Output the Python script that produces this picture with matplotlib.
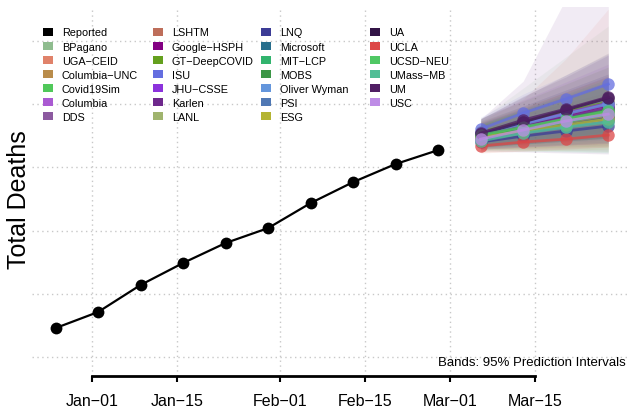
import matplotlib
matplotlib.use("Agg")
import matplotlib.pyplot as plt
from matplotlib.patches import Patch
import matplotlib.dates as mdates
import numpy as np
import pandas as pd

# --- Plot Config ---
plt.rcParams.update({
    "font.family": ["Liberation Sans", "DejaVu Sans"],
    "font.size": 8,
    "axes.linewidth": 1.5,
})

# --- Data ---
report_dates = ['2020-12-26', '2021-01-02', '2021-01-09', '2021-01-16', '2021-01-23',
                '2021-01-30', '2021-02-06', '2021-02-13', '2021-02-20', '2021-02-27']
reported = [12290, 13560, 15700, 17440, 19020, 20200, 22180, 23840, 25270, 26370]

forecast_dates = ['2021-03-06', '2021-03-13', '2021-03-20', '2021-03-27']

models = ['BPagano', 'UGA\u2212CEID', 'Columbia\u2212UNC', 'Covid19Sim', 'Columbia', 'DDS',
          'LSHTM', 'Google\u2212HSPH', 'GT\u2212DeepCOVID', 'ISU', 'JHU\u2212CSSE', 'Karlen',
          'LANL', 'LNQ', 'Microsoft', 'MIT\u2212LCP', 'MOBS', 'Oliver Wyman', 'PSI', 'ESG',
          'UA', 'UCLA', 'UCSD\u2212NEU', 'UMass\u2212MB', 'UM', 'USC']

colors = ['#8fbc8f', '#e0826a', '#b98c4b', '#50c85a', '#aa5ad2', '#8c5aa0',
          '#be6e5a', '#820082', '#64a01e', '#646ee0', '#8c32dc', '#6e288c',
          '#a0b46e', '#3c3c96', '#286e8c', '#32b46e', '#3c9646', '#6496dc', '#5078b4', '#b4b432',
          '#321446', '#dc4646', '#50c864', '#50be96', '#501e64', '#be8ce6']

point = [
    [27480, 27960, 28510, 29060],  # BPagano
    [27320, 27800, 28270, 28750],  # UGA-CEID
    [27560, 28110, 28750, 29380],  # Columbia-UNC
    [27640, 28270, 28980, 29700],  # Covid19Sim
    [27720, 28350, 29060, 29780],  # Columbia
    [27560, 28190, 28910, 29620],  # DDS
    [27400, 27880, 28430, 28980],  # LSHTM
    [27640, 28350, 29140, 29930],  # Google-HSPH
    [27800, 28590, 29380, 30170],  # GT-DeepCOVID
    [28040, 29300, 30410, 31590],  # ISU
    [27720, 28510, 29300, 30090],  # JHU-CSSE
    [27560, 28270, 28980, 29700],  # Karlen
    [27480, 28040, 28670, 29300],  # LANL
    [27010, 27480, 27880, 28270],  # LNQ
    [27320, 27800, 28350, 28910],  # Microsoft
    [27400, 27960, 28590, 29220],  # MIT-LCP
    [27480, 28110, 28830, 29540],  # MOBS
    [27720, 28430, 29220, 30010],  # Oliver Wyman
    [27240, 27720, 28190, 28670],  # PSI
    [27400, 27880, 28350, 28830],  # ESG
    [27640, 28590, 29540, 30490],  # UA
    [26690, 27010, 27240, 27560],  # UCLA
    [27560, 28190, 28830, 29460],  # UCSD-NEU
    [27090, 27720, 28190, 28590],  # UMass-MB
    [27720, 28750, 29620, 30570],  # UM
    [27240, 27960, 28670, 29220],  # USC
]

lower = [
    [26450, 26530, 26610, 26690], [26370, 26450, 26530, 26610], [26610, 26690, 26770, 26850],
    [26450, 26370, 26290, 26220], [26530, 26610, 26690, 26770], [26690, 26850, 27010, 27170],
    [26530, 26450, 26370, 26290], [26770, 27010, 27240, 27480], [26690, 26930, 27170, 27400],
    [27090, 27800, 28510, 29220], [26850, 27170, 27480, 27800], [26290, 26220, 26140, 26060],
    [26450, 26530, 26610, 26690], [26610, 26850, 27090, 27320], [26530, 26690, 26850, 27010],
    [26370, 26290, 26220, 26140], [26610, 26850, 27090, 27320], [26930, 27320, 27720, 28110],
    [26690, 26930, 27170, 27400], [26220, 26290, 26370, 26450], [26450, 26610, 26770, 26930],
    [26140, 26290, 26450, 26610], [26690, 26930, 27170, 27400], [26530, 26770, 27010, 27240],
    [26610, 26850, 27090, 27320], [26450, 26610, 26770, 26930],
]

upper = [
    [28830, 31280, 33730, 36180], [28670, 30410, 33570, 37530], [28350, 29220, 30090, 30960],
    [28670, 29860, 31120, 32390], [28900, 30330, 31750, 33170], [28430, 29540, 30640, 31750],
    [28270, 29380, 30490, 31590], [28510, 29700, 30960, 32230], [28900, 30250, 31590, 32940],
    [28980, 30800, 32310, 33960], [28590, 29860, 31120, 32390], [28830, 31830, 38320, 44650],
    [28510, 29540, 30570, 31590], [27400, 28110, 28670, 29220], [28110, 28910, 29700, 30490],
    [28430, 29620, 30800, 32000], [28350, 29460, 30570, 31670], [28510, 29620, 30730, 31830],
    [27800, 28510, 29220, 29930], [28590, 29780, 30960, 32150], [28830, 30570, 32310, 34050],
    [27320, 27960, 28590, 29220], [28430, 29460, 30490, 31510], [27720, 28670, 29380, 30010],
    [28830, 30640, 32150, 33880], [28110, 29380, 30570, 31590],
]

date_ticks = ['2021-01-01', '2021-01-15', '2021-02-01', '2021-02-15', '2021-03-01', '2021-03-15']
date_labels = ['Jan\u221201', 'Jan\u221215', 'Feb\u221201', 'Feb\u221215', 'Mar\u221201', 'Mar\u221215']
y_breaks = [10000, 15000, 20000, 25000, 30000, 35000]

# --- Figure ---
W, H = 628, 410
fig = plt.figure(figsize=(W / 100, H / 100), dpi=100)
ax = fig.add_axes([32 / W, (H - 377) / H, (W - 32) / W, (377 - 8) / H])

rd = pd.to_datetime(report_dates)
fd = pd.to_datetime(forecast_dates)

# bands
for lo, hi, c in zip(lower, upper, colors):
    ax.fill_between(fd, lo, hi, color=c, alpha=0.09, linewidth=0)

# forecast lines
for pts, c in zip(point, colors):
    ax.plot(fd, pts, color=c, linewidth=2, alpha=0.75,
            marker='o', markersize=9, markeredgewidth=0)

# reported
ax.plot(rd, reported, color='black', linewidth=1.6, marker='o', markersize=8.5,
        markeredgewidth=0)

# --- Axes ---
ax.set_xlim(pd.Timestamp('2020-12-22 03:00'), pd.Timestamp('2021-03-30 06:00'))
ax.set_ylim(8500, 37690)

tick_pos = pd.to_datetime(date_ticks)
ax.set_xticks(tick_pos)
ax.set_xticklabels(date_labels, fontsize=11.5)
ax.set_yticks(y_breaks)
ax.set_yticklabels([])
ax.tick_params(axis='y', length=0)
ax.tick_params(axis='x', direction='out', length=4, width=1.5, pad=8)

ax.grid(True, color='#c8c8c8', linestyle=(0, (1, 2.5)), linewidth=1)
ax.set_axisbelow(True)

for s in ['top', 'right', 'left']:
    ax.spines[s].set_visible(False)
ax.spines['bottom'].set_linewidth(2)
ax.spines['bottom'].set_bounds(mdates.date2num(tick_pos[0]), mdates.date2num(tick_pos[-1]))

ax.set_ylabel("Total Deaths", fontsize=18)
ax.yaxis.set_label_coords((31 - 32) / (W - 32), (377 - 200) / (377 - 8))

ax.text(1.0 - 2 / (W - 32), (377 - 363) / (377 - 8), "Bands: 95% Prediction Intervals",
        transform=ax.transAxes, ha='right', va='center', fontsize=9.5)

# --- Legend (four columns) ---
labels = ['Reported'] + models
handle_colors = ['black'] + colors
handles = [Patch(facecolor=c, edgecolor='none') for c in handle_colors]
col_x = [43, 153, 261, 370]
splits = [(0, 7), (7, 14), (14, 21), (21, 27)]
for cx, (a, b) in zip(col_x, splits):
    leg = fig.legend(handles[a:b], labels[a:b], loc='upper left',
                     bbox_to_anchor=(cx / W, 1 - 28.5 / H), frameon=False, fontsize=7.8,
                     borderpad=0, borderaxespad=0, handlelength=0.92, handleheight=0.7,
                     handletextpad=0.8, labelspacing=0.37)

fig.savefig("out.png", dpi=100)
